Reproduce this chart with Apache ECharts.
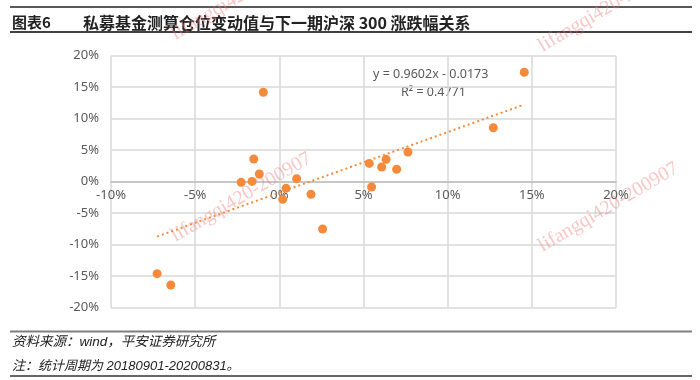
<!DOCTYPE html>
<html>
<head>
<meta charset="utf-8">
<script src="https://cdn.jsdelivr.net/npm/echarts@6/dist/echarts.min.js"></script>
<style>
html,body{margin:0;padding:0;background:#fff;}
#c{width:700px;height:380px;}
</style>
</head>
<body>
<div id="c"></div>
<script>
// ---- data ----
const titleLabel = '图表6';
const titleText = '私募基金测算仓位变动值与下一期沪深 300 涨跌幅关系';
const sourceText = '资料来源：wind，平安证券研究所';
const noteText = '注：统计周期为 20180901-20200831。';
// x: 私募基金测算仓位变动值, y: 下一期沪深300涨跌幅
const xVals = [-0.0095, -0.0152, -0.0119, -0.0227, -0.0162, 0.0103, 0.0040, 0.0020, 0.0188, 0.0257,
               -0.0726, -0.0645, 0.0534, 0.0548, 0.0634, 0.0608, 0.0697, 0.0764, 0.1271, 0.1455];
const yVals = [0.1420, 0.0360, 0.0122, -0.0010, 0.0005, 0.0048, -0.0105, -0.0280, -0.0200, -0.0750,
               -0.1460, -0.1640, 0.0290, -0.0084, 0.0355, 0.0233, 0.0197, 0.0471, 0.0857, 0.1737];
const trendSlope = 0.9602;
const trendIntercept = -0.0173;
const trendR2 = 0.4771;
const xTicks = [-0.10, 0.20, 0.05]; // min, max, interval
const yTicks = [-0.20, 0.20, 0.05];
const watermark = 'lifangqi420-200907';

const points = xVals.map((x, i) => [x, yVals[i]]);
const xMin = Math.min(...xVals), xMax = Math.max(...xVals);
const trend = [[xMin, trendSlope * xMin + trendIntercept], [xMax, trendSlope * xMax + trendIntercept]];
const eqText = 'y = ' + trendSlope.toFixed(4) + 'x - ' + Math.abs(trendIntercept).toFixed(4);
const r2Text = 'R² = ' + trendR2.toFixed(4);

const pct = v => Math.round(v * 100) + '%';
const ORANGE = '#F58A3A';
const LABEL = '#595959';
const FONT = '"Noto Sans", "Noto Sans CJK SC", sans-serif';

const GRID = {left: 111, right: 84, top: 55.7, bottom: 72.3};
const gridH = 380 - GRID.top - GRID.bottom;
// move the x axis up to y = 0 (axis crosses the y scale at zero)
const xAxisOffset = -gridH * (0 - yTicks[0]) / (yTicks[1] - yTicks[0]);

const chart = echarts.init(document.getElementById('c'), null, {renderer: 'canvas'});

const wmStarts = [[178, 44], [178, 246], [545, 56], [545, 256]];
const wm = wmStarts.map(p => ({
  type: 'text', x: p[0], y: p[1], rotation: 0.53, z: 100,
  style: {text: watermark, font: '20px "Liberation Serif", "DejaVu Serif", serif',
          fill: 'rgba(240,120,120,0.42)', textVerticalAlign: 'bottom'}
}));

chart.setOption({
  animation: false,
  backgroundColor: '#fff',
  grid: Object.assign({containLabel: false}, GRID),
  xAxis: {
    type: 'value', min: xTicks[0], max: xTicks[1], interval: xTicks[2],
    position: 'bottom', offset: xAxisOffset,
    axisLine: {show: true, onZero: false, lineStyle: {color: '#bfbfbf', width: 1.5}},
    axisTick: {show: false},
    axisLabel: {formatter: pct, color: LABEL, fontSize: 13, fontFamily: FONT, margin: 7},
    splitLine: {show: true, lineStyle: {color: '#d9d9d9', width: 1.5}}
  },
  yAxis: {
    type: 'value', min: yTicks[0], max: yTicks[1], interval: yTicks[2],
    axisLine: {show: false, onZero: false},
    axisTick: {show: false},
    axisLabel: {formatter: pct, color: LABEL, fontSize: 13, fontFamily: FONT, margin: 12},
    splitLine: {show: true, lineStyle: {color: '#d9d9d9', width: 1.5}}
  },
  series: [
    {
      type: 'line', data: trend, symbol: 'none', silent: true, z: 2,
      lineStyle: {color: ORANGE, width: 2, type: [2, 3]}
    },
    {
      type: 'scatter', data: points, symbol: 'circle', symbolSize: 9, z: 3,
      itemStyle: {color: ORANGE, opacity: 1}
    }
  ],
  graphic: [
    {type: 'line', shape: {x1: 10, y1: 7, x2: 692, y2: 7}, style: {stroke: '#595959', lineWidth: 2}},
    {type: 'line', shape: {x1: 10, y1: 32, x2: 692, y2: 32}, style: {stroke: '#404040', lineWidth: 2}},
    {type: 'text', x: 12, y: 22.5, style: {text: titleLabel, font: 'bold 15px "Noto Sans CJK SC", sans-serif', fill: '#222', textVerticalAlign: 'middle'}},
    {type: 'text', x: 83, y: 22.5, style: {text: titleText, font: 'bold 16px "Noto Sans CJK SC", sans-serif', fill: '#222', textVerticalAlign: 'middle'}},
    {type: 'text', x: 373, y: 74, style: {text: eqText, font: '12.5px ' + FONT, fill: LABEL, textVerticalAlign: 'middle'}},
    {type: 'text', x: 401, y: 92, style: {text: r2Text, font: '12.5px ' + FONT, fill: LABEL, textVerticalAlign: 'middle'}},
    {type: 'line', shape: {x1: 10, y1: 331.5, x2: 692, y2: 331.5}, style: {stroke: '#7f7f7f', lineWidth: 2}},
    {type: 'text', x: 12, y: 342, style: {text: sourceText, font: 'italic 13.5px "Liberation Sans", "Noto Sans CJK SC", sans-serif', fill: '#222', textVerticalAlign: 'middle'}},
    {type: 'text', x: 12, y: 366, style: {text: noteText, font: 'italic 13px "Liberation Sans", "Noto Sans CJK SC", sans-serif', fill: '#222', textVerticalAlign: 'middle'}},
    {type: 'line', shape: {x1: 10, y1: 376, x2: 692, y2: 376}, style: {stroke: '#333', lineWidth: 1.5}}
  ].concat(wm)
});
</script>
</body>
</html>
